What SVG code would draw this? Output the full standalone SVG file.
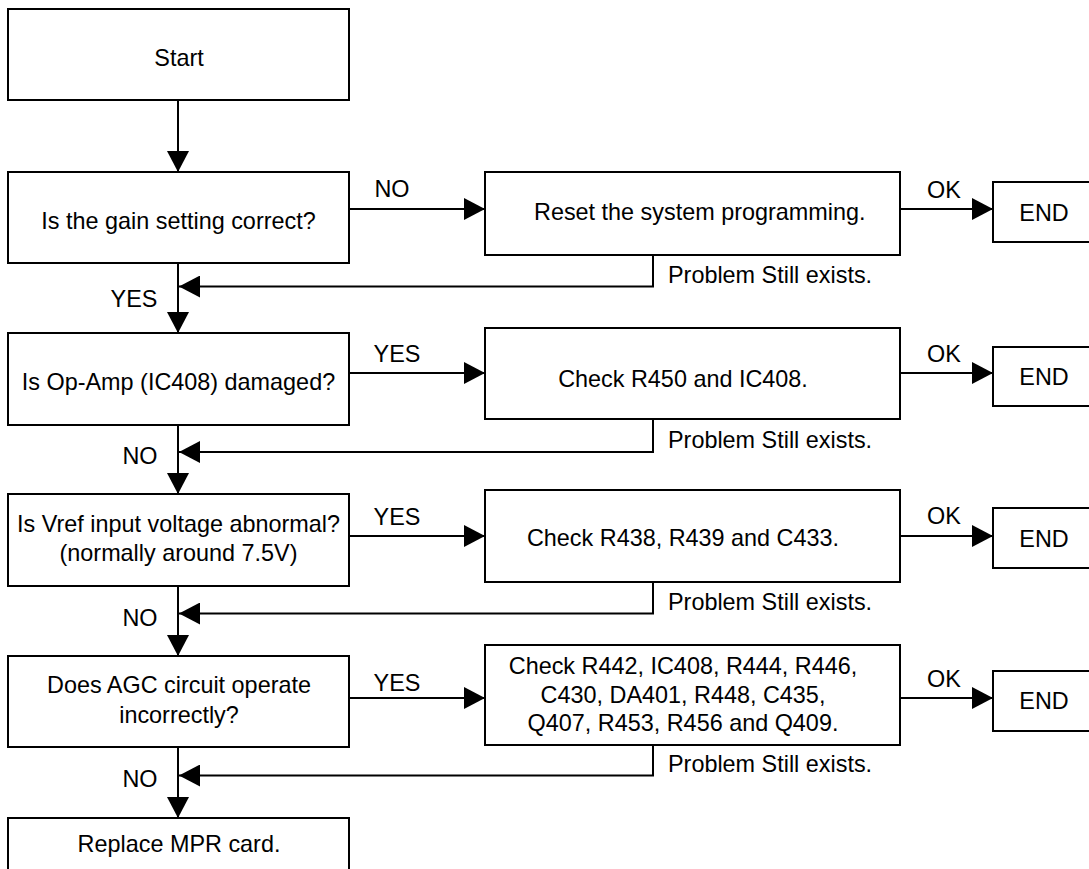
<svg xmlns="http://www.w3.org/2000/svg" width="1089" height="869" viewBox="0 0 1089 869">
<defs>
<style>
.box{fill:#fff;stroke:#000;stroke-width:2}
.ln{fill:none;stroke:#000;stroke-width:2}
.arr{marker-end:url(#ah)}
text{font-family:"Liberation Sans",Arial,sans-serif;font-size:23.4px;fill:#000}
.m{text-anchor:middle}
</style>
<marker id="ah" markerUnits="userSpaceOnUse" markerWidth="22" markerHeight="22" refX="21" refY="11" orient="auto">
<path d="M0,0 L21,11 L0,22 z" fill="#000"/>
</marker>
</defs>
<rect width="1089" height="869" fill="#fff"/>

<g id="connectors">
<path class="ln arr" d="M178,100 V172"/>
<path class="ln arr" d="M178,263 V333"/>
<path class="ln arr" d="M178,425 V494"/>
<path class="ln arr" d="M178,586 V656"/>
<path class="ln arr" d="M178,747 V818"/>
<path class="ln arr" d="M349,209 H485"/>
<path class="ln arr" d="M349,373 H485"/>
<path class="ln arr" d="M349,536 H485"/>
<path class="ln arr" d="M349,698 H485"/>
<path class="ln arr" d="M900,209 H993"/>
<path class="ln arr" d="M900,373 H993"/>
<path class="ln arr" d="M900,536 H993"/>
<path class="ln arr" d="M900,698 H993"/>
<path class="ln arr" d="M653,255 V286.5 H179"/>
<path class="ln arr" d="M653,419 V452 H179"/>
<path class="ln arr" d="M653,582 V613.5 H179"/>
<path class="ln arr" d="M653,745 V775.5 H179"/>
<text class="m" x="392" y="197">NO</text>
<text class="m" x="397" y="362">YES</text>
<text class="m" x="397" y="525">YES</text>
<text class="m" x="397" y="691">YES</text>
<text class="m" x="944" y="198">OK</text>
<text class="m" x="944" y="362">OK</text>
<text class="m" x="944" y="524">OK</text>
<text class="m" x="944" y="687">OK</text>
<text class="m" x="134" y="307">YES</text>
<text class="m" x="140" y="464">NO</text>
<text class="m" x="140" y="626">NO</text>
<text class="m" x="140" y="787">NO</text>
<text x="668" y="283">Problem Still exists.</text>
<text x="668" y="448">Problem Still exists.</text>
<text x="668" y="610">Problem Still exists.</text>
<text x="668" y="772">Problem Still exists.</text>
</g>

<g id="start"><rect class="box" x="8" y="9" width="341" height="91"/><text class="m" x="179" y="65.5">Start</text></g>
<g id="q-gain"><rect class="box" x="8" y="172" width="341" height="91"/><text class="m" x="178.5" y="229">Is the gain setting correct?</text></g>
<g id="q-opamp"><rect class="box" x="8" y="333" width="341" height="92"/><text class="m" x="178.5" y="390">Is Op-Amp (IC408) damaged?</text></g>
<g id="q-vref"><rect class="box" x="8" y="494" width="341" height="92"/><text class="m" x="178.5" y="531.5">Is Vref input voltage abnormal?</text><text class="m" x="178.5" y="560.5">(normally around 7.5V)</text></g>
<g id="q-agc"><rect class="box" x="8" y="656" width="341" height="91"/><text class="m" x="179" y="693">Does AGC circuit operate</text><text class="m" x="179" y="723">incorrectly?</text></g>
<g id="replace"><rect class="box" x="8" y="818" width="341" height="70"/><text class="m" x="179" y="851.5">Replace MPR card.</text></g>

<g id="reset"><rect class="box" x="485" y="172" width="415" height="83"/><text x="534" y="220">Reset the system programming.</text></g>
<g id="check-r450"><rect class="box" x="485" y="328" width="415" height="91"/><text class="m" x="683" y="386.5">Check R450 and IC408.</text></g>
<g id="check-r438"><rect class="box" x="485" y="490" width="415" height="92"/><text class="m" x="683" y="546">Check R438, R439 and C433.</text></g>
<g id="check-r442"><rect class="box" x="485" y="645" width="415" height="100"/><text class="m" x="683" y="673.5">Check R442, IC408, R444, R446,</text><text class="m" x="683" y="702.5">C430, DA401, R448, C435,</text><text class="m" x="683" y="731">Q407, R453, R456 and Q409.</text></g>

<g id="end1"><rect class="box" x="993" y="182" width="110" height="60"/><text class="m" x="1044" y="221">END</text></g>
<g id="end2"><rect class="box" x="993" y="347" width="110" height="59"/><text class="m" x="1044" y="385">END</text></g>
<g id="end3"><rect class="box" x="993" y="508" width="110" height="60"/><text class="m" x="1044" y="547">END</text></g>
<g id="end4"><rect class="box" x="993" y="671" width="110" height="60"/><text class="m" x="1044" y="709">END</text></g>
</svg>
